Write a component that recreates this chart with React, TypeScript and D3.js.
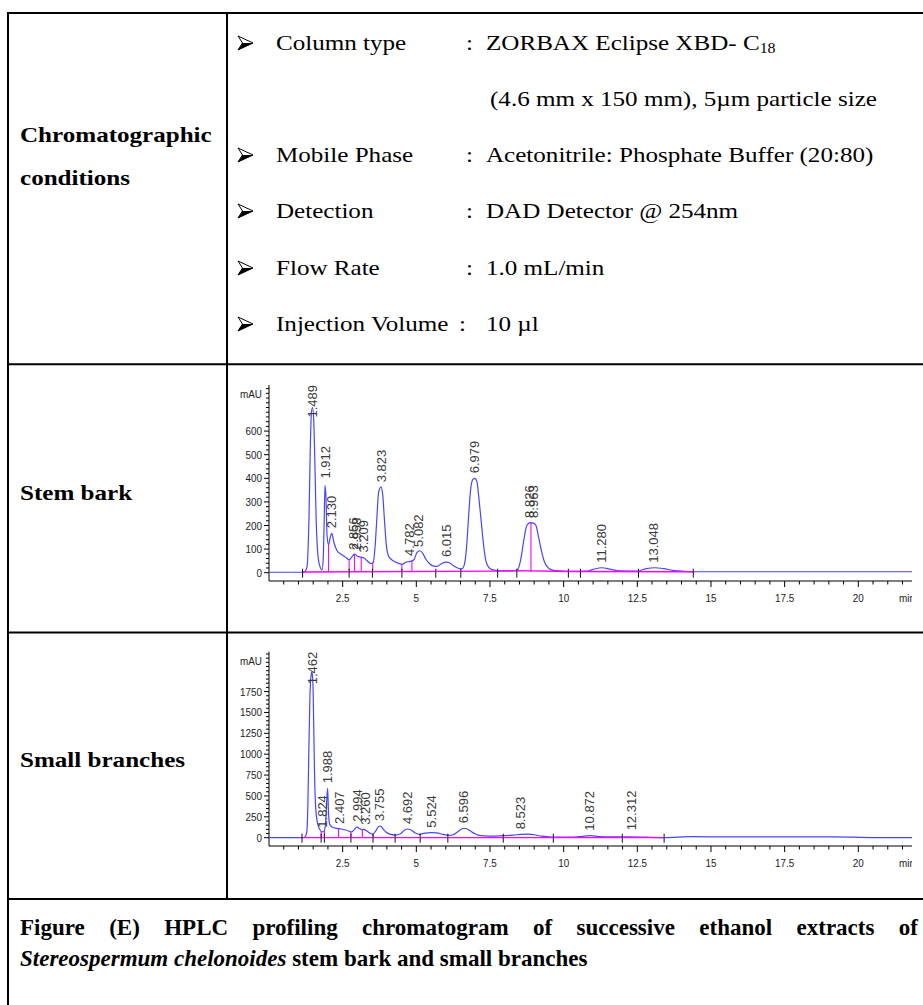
import React, { useEffect, useRef } from "react";
import * as d3 from "d3";

// ---- table text ----
const condLabels = ["Column type", "Mobile Phase", "Detection", "Flow Rate", "Injection Volume"];
const condValues = [
  "ZORBAX Eclipse XBD- C",
  "Acetonitrile: Phosphate Buffer (20:80)",
  "DAD Detector @ 254nm",
  "1.0 mL/min",
  "10 µl",
];
const columnSub = "18";
const columnDetail = "(4.6 mm x 150 mm), 5µm particle size";
const rowTitle = ["Chromatographic", "conditions"];
const sampleNames = ["Stem bark", "Small branches"];
const captionWords = "Figure (E) HPLC profiling chromatogram of successive ethanol extracts of".split(" ");
const captionSpecies = "Stereospermum chelonoides";
const captionRest = " stem bark and small branches";

// ---- chromatogram data (min, mAU) ----
const timeTicks = [2.5, 5, 7.5, 10, 12.5, 15, 17.5, 20];
const stemYTicks = [0, 100, 200, 300, 400, 500, 600];
const branchYTicks = [0, 250, 500, 750, 1000, 1250, 1500, 1750];

const stemTrace: [number, number][] = [
  [0, 2], [1.1, 2], [1.2, 4], [1.29, 25], [1.36, 250], [1.4, 520], [1.44, 680], [1.48, 700],
  [1.52, 640], [1.56, 450], [1.6, 230], [1.65, 90], [1.72, 30], [1.8, 12], [1.84, 60],
  [1.87, 200], [1.9, 370], [1.93, 330], [1.97, 160], [2.02, 118], [2.08, 150], [2.13, 167],
  [2.2, 130], [2.3, 95], [2.45, 78], [2.6, 66], [2.72, 55], [2.8, 65], [2.9, 79], [3.0, 70],
  [3.12, 66], [3.22, 62], [3.32, 52], [3.46, 38], [3.54, 45], [3.6, 110], [3.66, 230],
  [3.72, 340], [3.8, 364], [3.86, 330], [3.92, 220], [3.98, 120], [4.06, 70], [4.2, 52],
  [4.4, 40], [4.52, 35], [4.65, 45], [4.8, 48], [4.92, 55], [5.02, 85], [5.12, 93],
  [5.22, 82], [5.32, 58], [5.45, 38], [5.6, 28], [5.7, 27], [5.85, 38], [6.0, 45],
  [6.12, 42], [6.25, 30], [6.4, 20], [6.54, 16], [6.62, 30], [6.7, 100], [6.77, 230],
  [6.84, 350], [6.92, 395], [6.99, 400], [7.06, 385], [7.12, 320], [7.2, 220], [7.28, 120],
  [7.36, 50], [7.46, 22], [7.6, 12], [7.9, 8], [8.3, 8], [8.45, 15], [8.55, 60], [8.65, 140],
  [8.75, 200], [8.86, 212], [8.98, 210], [9.06, 200], [9.15, 150], [9.25, 90], [9.35, 45],
  [9.5, 18], [9.7, 9], [10.2, 6], [10.8, 7], [11.0, 14], [11.3, 21], [11.6, 14], [11.9, 8],
  [12.5, 7], [12.8, 17], [13.1, 21], [13.4, 17], [13.7, 10], [14.1, 6], [14.5, 4], [22.5, 4],
];
const stemPeaks: [string, number, number][] = [
  ["1.489", 1.489, 700], ["1.912", 1.912, 378], ["2.130", 2.13, 167], ["2.856", 2.856, 76],
  ["2.958", 2.958, 74], ["3.209", 3.209, 64], ["3.823", 3.823, 362], ["4.782", 4.782, 50],
  ["5.082", 5.082, 88], ["6.015", 6.015, 45], ["6.979", 6.979, 400], ["8.826", 8.826, 211],
  ["8.963", 8.963, 211], ["11.280", 11.28, 21], ["13.048", 13.048, 21],
];
const stemDrops: [number, number][] = [
  [2.02, 118], [2.72, 55], [2.9, 79], [3.13, 66], [3.52, 42], [4.51, 35], [4.85, 50], [8.89, 212],
];
const stemMarks = [1.14, 2.72, 3.51, 4.51, 5.66, 6.51, 7.76, 8.41, 10.16, 10.57, 12.54, 14.4];
const stemBase: [number, number][] = [[1.14, 3], [7.76, 7], [8.41, 9], [10.16, 5], [14.4, 4]];

const branchTrace: [number, number][] = [
  [0, 0], [1.15, 0], [1.22, 10], [1.28, 60], [1.32, 400], [1.35, 1000], [1.39, 1700],
  [1.43, 1950], [1.46, 1985], [1.49, 1850], [1.52, 1300], [1.55, 700], [1.59, 330],
  [1.65, 170], [1.72, 100], [1.8, 70], [1.86, 75], [1.92, 170], [1.96, 450], [1.99, 590],
  [2.02, 300], [2.06, 160], [2.15, 125], [2.3, 112], [2.45, 104], [2.6, 92], [2.72, 78],
  [2.8, 68], [2.9, 100], [2.98, 130], [3.06, 110], [3.15, 95], [3.22, 100], [3.3, 85],
  [3.42, 55], [3.52, 42], [3.62, 80], [3.72, 135], [3.78, 140], [3.88, 100], [3.98, 65],
  [4.1, 42], [4.28, 32], [4.45, 45], [4.6, 90], [4.7, 104], [4.8, 95], [4.95, 60], [5.1, 40],
  [5.3, 55], [5.5, 60], [5.7, 58], [5.9, 40], [6.1, 28], [6.25, 35], [6.42, 75], [6.58, 110],
  [6.68, 110], [6.8, 88], [6.95, 55], [7.1, 30], [7.3, 22], [7.7, 20], [8.0, 24], [8.3, 32],
  [8.55, 40], [8.8, 42], [9.0, 35], [9.25, 18], [9.6, 8], [10.2, 6], [10.6, 14], [10.9, 24],
  [11.2, 14], [11.6, 10], [12.2, 10], [12.8, 6], [13.4, 2], [14.4, 12], [15.5, 10],
  [19.2, 10], [20.5, 2], [22.5, 2],
];
const branchPeaks: [string, number, number][] = [
  ["1.462", 1.462, 1985], ["1.824", 1.824, 60], ["1.988", 1.988, 592], ["2.407", 2.407, 105],
  ["2.994", 2.994, 130], ["3.260", 3.26, 95], ["3.755", 3.755, 140], ["4.692", 4.692, 104],
  ["5.524", 5.524, 60], ["6.596", 6.596, 112], ["8.523", 8.523, 40], ["10.872", 10.872, 24],
  ["12.312", 12.312, 28],
];
const branchDrops: [number, number][] = [
  [1.77, 72], [1.88, 80], [2.36, 108], [2.78, 70], [3.17, 97], [3.53, 42],
];
const branchMarks = [1.12, 1.77, 1.88, 2.78, 3.53, 4.28, 5.13, 6.07, 7.95, 9.65, 11.99, 13.41];
const branchBase: [number, number][] = [[1.12, 0], [13.41, 0]];

const serif = "'Liberation Serif', 'Times New Roman', serif";
const sans = "'Liberation Sans', Arial, sans-serif";
const SX = 1.14;

const charts = [
  {
    id: "stem", top: 385, axisY: 581, zeroY: 572.7, perUnit: 0.236, yTicks: stemYTicks,
    minorStep: 20, minorMax: 780, trace: stemTrace, peaks: stemPeaks, drops: stemDrops,
    marks: stemMarks, base: stemBase,
  },
  {
    id: "branch", top: 651.7, axisY: 846, zeroY: 837.7, perUnit: 0.0835, yTicks: branchYTicks,
    minorStep: 50, minorMax: 2200, trace: branchTrace, peaks: branchPeaks, drops: branchDrops,
    marks: branchMarks, base: branchBase,
  },
];

function cellText(g: any, x: number, y: number, txt: string, bold = false) {
  return g
    .append("text")
    .attr("transform", `translate(${x},${y}) scale(${SX},1)`)
    .style("font-family", serif)
    .style("font-size", "22px")
    .style("font-weight", bold ? "bold" : "normal")
    .text(txt);
}

// 3D arrowhead bullet
function bullet(g: any, x: number, y: number) {
  const b = g.append("g").attr("transform", `translate(${x},${y})`);
  b.append("path")
    .attr("d", "M0,-7 L15,0 L0,7 L4.5,0 Z")
    .attr("fill", "#fff")
    .attr("stroke", "#000")
    .attr("stroke-width", 1)
    .attr("stroke-linejoin", "miter");
  b.append("path").attr("d", "M4.5,0 L15,0 L0,7 Z").attr("fill", "#000");
}

function drawTable(svg: any) {
  const g = svg.append("g");
  const borders = [
    [8, 13, 923, 13], [8, 364.3, 923, 364.3], [8, 632.5, 923, 632.5], [8, 899, 923, 899],
    [8, 12, 8, 1005], [227, 12, 227, 899],
  ];
  g.selectAll("line")
    .data(borders)
    .join("line")
    .attr("x1", (d: number[]) => d[0])
    .attr("y1", (d: number[]) => d[1])
    .attr("x2", (d: number[]) => d[2])
    .attr("y2", (d: number[]) => d[3])
    .attr("stroke", "#000")
    .attr("stroke-width", 2);

  cellText(g, 20, 142, rowTitle[0], true);
  cellText(g, 20, 185, rowTitle[1], true);

  const rowY = [50, 162, 218, 275, 331];
  condLabels.forEach((lab, i) => {
    bullet(g, 238, rowY[i] - 7);
    cellText(g, 276, rowY[i], lab);
    const last = i === condLabels.length - 1;
    cellText(g, last ? 459 : 466, rowY[i], ":");
    const v = cellText(g, 486, rowY[i], condValues[i]);
    if (i === 0) {
      v.append("tspan").attr("dy", 3).style("font-size", "14px").text(columnSub);
    }
  });
  cellText(g, 490, 106, columnDetail);

  cellText(g, 20, 500, sampleNames[0], true);
  cellText(g, 20, 767, sampleNames[1], true);
}

function drawCaption(svg: any) {
  const g = svg
    .append("g")
    .style("font-family", serif)
    .style("font-size", "23px")
    .style("font-weight", "bold");
  const words = captionWords.map((w) => g.append("text").attr("y", 935).text(w));
  const widths = words.map((t: any) => (t.node() as SVGTextElement).getComputedTextLength());
  const gap = (918 - 20 - d3.sum(widths)) / (words.length - 1);
  let cx = 20;
  words.forEach((t: any, i: number) => {
    t.attr("x", cx);
    cx += widths[i] + gap;
  });
  const l2 = g.append("text").attr("x", 20).attr("y", 966);
  l2.append("tspan").style("font-style", "italic").text(captionSpecies);
  l2.append("tspan").text(captionRest);
}

function drawChart(svg: any, c: any) {
  const x = d3.scaleLinear().domain([0, 20]).range([269, 858.3]);
  const y = d3.scaleLinear().domain([0, 100]).range([c.zeroY, c.zeroY - 100 * c.perUnit]);
  const clipId = c.id + "-clip";
  svg
    .append("clipPath")
    .attr("id", clipId)
    .append("rect")
    .attr("x", 228)
    .attr("y", c.top - 20)
    .attr("width", 912 - 228)
    .attr("height", c.axisY - c.top + 50);
  const g = svg.append("g").attr("clip-path", `url(#${clipId})`);

  // axes
  g.append("line").attr("x1", 269).attr("x2", 930).attr("y1", c.axisY).attr("y2", c.axisY)
    .attr("stroke", "#000").attr("stroke-width", 1);
  g.append("line").attr("x1", 269).attr("x2", 269).attr("y1", c.top).attr("y2", c.axisY)
    .attr("stroke", "#000").attr("stroke-width", 1);

  const xMinor = d3.range(0.5, 22.5, 0.5);
  g.selectAll(".xtick")
    .data(xMinor)
    .join("line")
    .attr("class", "xtick")
    .attr("x1", (d: number) => x(d))
    .attr("x2", (d: number) => x(d))
    .attr("y1", c.axisY)
    .attr("y2", (d: number) => c.axisY + (Math.abs(d / 2.5 - Math.round(d / 2.5)) < 1e-6 ? 6 : 3.5))
    .attr("stroke", "#000");
  g.selectAll(".xlab")
    .data(timeTicks)
    .join("text")
    .attr("class", "xlab")
    .attr("transform", (d: number) => `translate(${x(d)},${c.axisY + 21}) scale(0.86,1)`)
    .attr("text-anchor", "middle")
    .style("font-family", sans)
    .style("font-size", "11.5px")
    .attr("fill", "#222")
    .text((d: number) => String(d));
  g.append("text")
    .attr("transform", `translate(899,${c.axisY + 21}) scale(0.86,1)`)
    .style("font-family", sans)
    .style("font-size", "11.5px")
    .attr("fill", "#222")
    .text("min");

  const yMinor = d3.range(c.minorStep, c.minorMax + 1, c.minorStep);
  g.selectAll(".ytick")
    .data([0, ...yMinor])
    .join("line")
    .attr("class", "ytick")
    .attr("x1", (d: number) => 269 - (c.yTicks.includes(d) ? 5 : 3))
    .attr("x2", 269)
    .attr("y1", (d: number) => y(d))
    .attr("y2", (d: number) => y(d))
    .attr("stroke", "#000");
  g.selectAll(".ylab")
    .data(c.yTicks)
    .join("text")
    .attr("class", "ylab")
    .attr("transform", (d: number) => `translate(262,${y(d) + 4}) scale(0.86,1)`)
    .attr("text-anchor", "end")
    .style("font-family", sans)
    .style("font-size", "11.5px")
    .attr("fill", "#222")
    .text((d: number) => String(d));
  g.append("text")
    .attr("transform", `translate(240,${c.top + 13}) scale(0.86,1)`)
    .style("font-family", sans)
    .style("font-size", "11.5px")
    .attr("fill", "#222")
    .text("mAU");

  // trace
  const line = d3
    .line<[number, number]>()
    .x((d) => x(d[0]))
    .y((d) => y(d[1]))
    .curve(d3.curveMonotoneX);
  g.append("path")
    .attr("d", line(c.trace))
    .attr("fill", "none")
    .attr("stroke", "#4646ff")
    .attr("stroke-width", 1.2);

  // integration baseline + drop lines
  g.append("path")
    .attr("d", d3.line<[number, number]>().x((d) => x(d[0])).y((d) => y(d[1]))(c.base))
    .attr("fill", "none")
    .attr("stroke", "#ff00ff")
    .attr("stroke-width", 1.3);
  g.selectAll(".drop")
    .data(c.drops)
    .join("line")
    .attr("class", "drop")
    .attr("x1", (d: number[]) => x(d[0]))
    .attr("x2", (d: number[]) => x(d[0]))
    .attr("y1", y(3))
    .attr("y2", (d: number[]) => y(d[1]))
    .attr("stroke", "#ff00ff")
    .attr("stroke-width", 1.1);
  g.selectAll(".mark")
    .data(c.marks)
    .join("line")
    .attr("class", "mark")
    .attr("x1", (d: number) => x(d))
    .attr("x2", (d: number) => x(d))
    .attr("y1", y(0) - 4)
    .attr("y2", y(0) + 5)
    .attr("stroke", "#111")
    .attr("stroke-width", 1);

  // peak labels
  c.peaks.forEach((p: [string, number, number]) => {
    const px = x(p[1]) + 4.5;
    const t = g
      .append("text")
      .style("font-family", sans)
      .style("font-size", "13px")
      .attr("fill", "#3a3a3a")
      .text(p[0]);
    const len = (t.node() as SVGTextElement).getComputedTextLength();
    const py = Math.max(y(p[2]) - 5, c.top + len);
    t.attr("transform", `translate(${px},${py}) rotate(-90)`);
  });
}

export default function App() {
  const ref = useRef<SVGSVGElement>(null);
  useEffect(() => {
    const svg = d3.select(ref.current);
    svg.selectAll("*").remove();
    svg.append("rect").attr("width", 923).attr("height", 1005).attr("fill", "#fff");
    drawTable(svg);
    charts.forEach((c) => drawChart(svg, c));
    drawCaption(svg);
  }, []);
  return (
    <svg
      ref={ref}
      width={923}
      height={1005}
      style={{ position: "absolute", left: 0, top: 0 }}
    />
  );
}
